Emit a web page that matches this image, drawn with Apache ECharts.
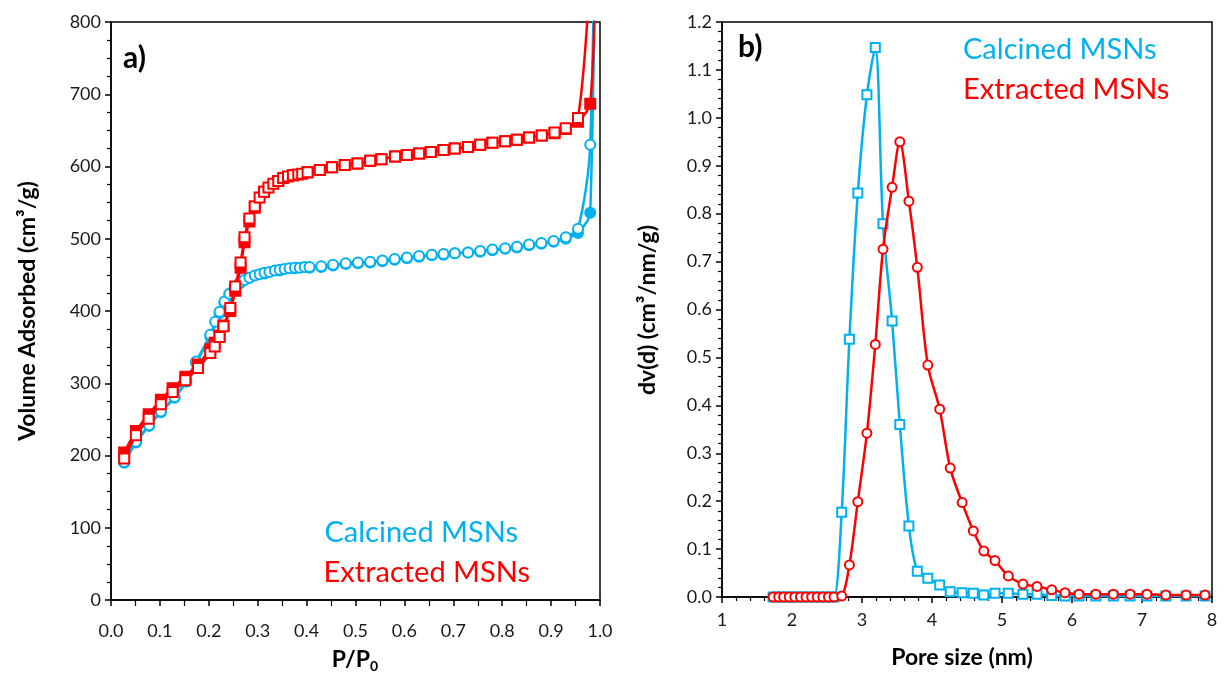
<!DOCTYPE html>
<html><head><meta charset="utf-8">
<script src="https://cdn.jsdelivr.net/npm/echarts@6/dist/echarts.min.js"></script>
<style>html,body{margin:0;padding:0;background:#fff}#c{width:1225px;height:676px}</style>
</head><body><div id="c"></div>
<script>
// ---------- Panel a) N2 isotherms ----------
const calcAdsP = [0.027,0.051,0.078,0.102,0.13,0.154,0.174,0.203,0.213,0.222,0.232,0.242,0.253,0.263,0.273,0.283,0.294,0.304,0.314,0.324,0.335,0.345,0.355,0.365,0.376,0.386,0.396,0.406,0.43,0.454,0.48,0.505,0.53,0.555,0.58,0.605,0.63,0.656,0.68,0.703,0.73,0.755,0.78,0.806,0.83,0.855,0.88,0.905,0.93,0.955,0.98,0.995];
const calcAdsV = [191,219,242,261,281,304,330,367,385,399,413,424,434,439,443,446,449,451,453,454,456,457,458,459,460,460,461,461,462,464,466,467,468,470,472,474,476,478,479,480,481,483,485,487,489,492,494,497,502,514,630,1300];
const calcDesP = [0.995,0.98,0.955,0.93,0.905,0.88,0.855,0.83,0.806,0.78,0.755,0.73,0.703,0.68,0.656,0.63,0.605,0.58,0.555,0.53,0.505,0.48,0.454,0.43,0.406,0.376,0.345,0.314,0.283,0.263,0.253,0.242,0.232,0.222,0.203,0.174,0.154,0.13,0.102,0.078,0.051,0.027];
const calcDesV = [1300,536,508,500,496,493,491,488,486,484,482,481,480,478,477,475,473,471,469,467,466,465,463,461,460,459,456,452,446,438,432,422,411,397,365,328,302,280,260,241,218,190];
const extrAdsP = [0.027,0.051,0.077,0.102,0.126,0.152,0.178,0.203,0.212,0.222,0.23,0.244,0.254,0.265,0.273,0.283,0.294,0.304,0.313,0.322,0.332,0.342,0.352,0.362,0.372,0.383,0.391,0.402,0.427,0.452,0.478,0.504,0.53,0.553,0.581,0.605,0.63,0.654,0.68,0.703,0.73,0.755,0.78,0.806,0.83,0.855,0.881,0.907,0.93,0.955,0.98];
const extrAdsV = [196,228,251,271,288,304,321,342,351,364,379,404,434,467,502,528,545,557,565,571,576,580,584,586,588,589,590,592,595,599,602,604,608,610,614,616,618,620,623,625,627,630,633,635,637,640,643,647,653,667,870];
const extrDesP = [0.99,0.98,0.955,0.93,0.907,0.881,0.855,0.83,0.806,0.78,0.755,0.73,0.703,0.68,0.654,0.63,0.605,0.581,0.553,0.53,0.504,0.478,0.452,0.427,0.402,0.372,0.342,0.313,0.294,0.283,0.273,0.265,0.254,0.244,0.23,0.222,0.212,0.203,0.178,0.152,0.126,0.102,0.077,0.051,0.027];
const extrDesV = [900,687,662,652,646,643,640,637,635,633,630,627,625,623,620,618,616,614,610,608,604,602,599,595,592,588,580,565,543,524,495,460,428,400,380,366,356,347,326,309,293,277,257,234,204];

// ---------- Panel b) pore size distribution ----------
const poreSize = [1.73,1.81,1.88,1.96,2.04,2.12,2.20,2.28,2.36,2.44,2.52,2.60,2.71,2.82,2.94,3.07,3.19,3.30,3.43,3.54,3.67,3.79,3.94,4.11,4.26,4.43,4.59,4.74,4.90,5.09,5.30,5.50,5.71,5.90,6.10,6.34,6.59,6.83,7.07,7.34,7.63,7.90];
const calcPSD = [0,0,0,0,0,0,0,0,0,0,0,0,0.177,0.538,0.843,1.048,1.147,0.779,0.576,0.360,0.148,0.054,0.039,0.025,0.011,0.009,0.008,0.004,0.008,0.008,0.006,0.006,0.003,0.002,0.002,0.002,0.002,0.002,0.002,0.002,0.002,0.002];
const extrPSD = [0,0,0,0,0,0,0,0,0,0,0,0,0.002,0.067,0.199,0.342,0.527,0.726,0.855,0.950,0.826,0.688,0.484,0.392,0.269,0.197,0.138,0.096,0.076,0.044,0.027,0.022,0.015,0.009,0.006,0.006,0.006,0.006,0.006,0.004,0.004,0.004];

const xTicksA = ['0.0','0.1','0.2','0.3','0.4','0.5','0.6','0.7','0.8','0.9','1.0'];

const BLUE = '#00B0F0', RED = '#FF0000';
const FONT = 'Lato';
const zip = (a, b) => a.map((v, i) => [v, b[i]]);

const axisCommon = {
  axisLine: { show: true, onZero: false, lineStyle: { color: '#000', width: 1.5 } },
  axisTick: { show: true, inside: false, length: 6, lineStyle: { color: '#000', width: 1.5 } },
  minorTick: { show: true, length: 4, lineStyle: { color: '#000', width: 1.2 } },
  splitLine: { show: false },
  axisLabel: { color: '#1a1a1a', fontFamily: FONT, fontSize: 18, margin: 10 }
};

function lineSeries(name, data, color, symbol, xi, size, z) {
  return {
    name, type: 'line', data, xAxisIndex: xi, yAxisIndex: xi,
    smooth: 0.3, symbol, symbolSize: size, z,
    lineStyle: { color, width: 2.5 },
    itemStyle: { color, borderColor: color, borderWidth: 2 },
    clip: true
  };
}

const option = {
  animation: false,
  backgroundColor: '#fff',
  grid: [
    { left: 111, top: 22, width: 489, height: 578, show: true, borderColor: '#000', borderWidth: 1.5, backgroundColor: 'transparent' },
    { left: 722, top: 22, width: 490, height: 575, show: true, borderColor: '#000', borderWidth: 1.5, backgroundColor: 'transparent' }
  ],
  xAxis: [
    Object.assign({}, axisCommon, { type: 'value', gridIndex: 0, min: 0, max: 1, interval: 0.1,
      minorTick: Object.assign({}, axisCommon.minorTick, { splitNumber: 2, length: 6 }),
      axisLabel: Object.assign({}, axisCommon.axisLabel, { margin: 22, formatter: (v) => xTicksA[Math.round(v * 10)] }) }),
    Object.assign({}, axisCommon, { type: 'value', gridIndex: 1, min: 1, max: 8, interval: 1,
      minorTick: Object.assign({}, axisCommon.minorTick, { splitNumber: 5 }),
      axisLabel: Object.assign({}, axisCommon.axisLabel, { margin: 14 }) })
  ],
  yAxis: [
    Object.assign({}, axisCommon, { type: 'value', gridIndex: 0, min: 0, max: 800, interval: 100,
      minorTick: Object.assign({}, axisCommon.minorTick, { splitNumber: 4 }) }),
    Object.assign({}, axisCommon, { type: 'value', gridIndex: 1, min: 0, max: 1.2, interval: 0.1,
      minorTick: Object.assign({}, axisCommon.minorTick, { splitNumber: 5 }),
      axisLabel: Object.assign({}, axisCommon.axisLabel, { formatter: (v) => v.toFixed(1) }) })
  ],
  series: [
    lineSeries('Calcined desorption', zip(calcDesP, calcDesV), BLUE, 'circle', 0, 10, 2),
    lineSeries('Calcined MSNs', zip(calcAdsP, calcAdsV), BLUE, 'emptyCircle', 0, 10, 3),
    lineSeries('Extracted desorption', zip(extrDesP, extrDesV), RED, 'rect', 0, 10, 4),
    lineSeries('Extracted MSNs', zip(extrAdsP, extrAdsV), RED, 'emptyRect', 0, 10, 5),
    lineSeries('Calcined MSNs b', zip(poreSize, calcPSD), BLUE, 'emptyRect', 1, 9, 3),
    lineSeries('Extracted MSNs b', zip(poreSize, extrPSD), RED, 'emptyCircle', 1, 9, 4)
  ],
  graphic: [
    { type: 'text', x: 123, y: 58, style: { text: 'a)', fontFamily: FONT, fontSize: 30, fontWeight: 'bold', fill: '#000', textVerticalAlign: 'middle' } },
    { type: 'text', x: 738, y: 47, style: { text: 'b)', fontFamily: FONT, fontSize: 30, fontWeight: 'bold', fill: '#000', textVerticalAlign: 'middle' } },
    { type: 'text', x: 518, y: 533, style: { text: 'Calcined MSNs', fontFamily: FONT, fontSize: 29, fill: BLUE, textAlign: 'right', textVerticalAlign: 'middle' } },
    { type: 'text', x: 530, y: 573, style: { text: 'Extracted MSNs', fontFamily: FONT, fontSize: 29, fill: RED, textAlign: 'right', textVerticalAlign: 'middle' } },
    { type: 'text', x: 963, y: 50, style: { text: 'Calcined MSNs', fontFamily: FONT, fontSize: 29, fill: BLUE, textVerticalAlign: 'middle' } },
    { type: 'text', x: 963, y: 90, style: { text: 'Extracted MSNs', fontFamily: FONT, fontSize: 29, fill: RED, textVerticalAlign: 'middle' } },
    { type: 'text', x: 28, y: 311, rotation: Math.PI / 2, style: { text: 'Volume Adsorbed (cm³/g)', fontFamily: FONT, fontSize: 23, fontWeight: 'bold', fill: '#000', textAlign: 'center', textVerticalAlign: 'middle' } },
    { type: 'text', x: 648, y: 310, rotation: Math.PI / 2, style: { text: 'dv(d) (cm³/nm/g)', fontFamily: FONT, fontSize: 23, fontWeight: 'bold', fill: '#000', textAlign: 'center', textVerticalAlign: 'middle' } },
    { type: 'text', x: 962, y: 658, style: { text: 'Pore size (nm)', fontFamily: FONT, fontSize: 23, fontWeight: 'bold', fill: '#000', textAlign: 'center', textVerticalAlign: 'middle' } },
    { type: 'text', x: 355, y: 660, style: { text: '{a|P/P}{b|0}', fontFamily: FONT, fontSize: 23, fontWeight: 'bold', fill: '#000', textAlign: 'center', textVerticalAlign: 'middle',
        rich: { a: { fontFamily: FONT, fontSize: 23, fontWeight: 'bold', fill: '#000' }, b: { fontFamily: FONT, fontSize: 14, fontWeight: 'bold', fill: '#000', padding: [12, 0, 0, 0] } } } }
  ]
};

const chart = echarts.init(document.getElementById('c'), null, { renderer: 'canvas' });
chart.setOption(option);
</script></body></html>
